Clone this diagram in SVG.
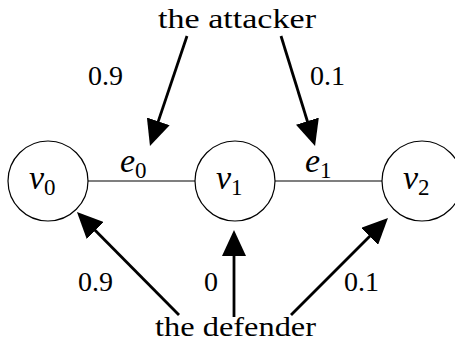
<svg xmlns="http://www.w3.org/2000/svg" width="455" height="350" viewBox="0 0 455 350">
  <style>
    .node circle { fill: #fff; stroke: #000; stroke-width: 1.2; }
    .lbl { font-family: "Liberation Serif", "Times New Roman", serif; font-size: 28px; fill: #000; }
    .math { font-family: "Liberation Serif", "Times New Roman", serif; font-style: italic; font-size: 34px; fill: #000; }
    .sub { font-style: normal; font-size: 23px; }
    .edge { stroke: #000; stroke-width: 1.2; fill: none; }
    .arrow { stroke: #000; stroke-width: 2.8; fill: none; marker-end: url(#tip); }
  </style>
  <defs>
    <marker id="tip" markerUnits="userSpaceOnUse" viewBox="0 0 26 24" refX="14" refY="12" markerWidth="26" markerHeight="24" orient="auto">
      <path d="M0,0 L26,12 L0,24 Z" fill="#000"/>
    </marker>
  </defs>

  <!-- plain edges, weighted arrows and their labels -->
  <g id="connectors">
    <line class="edge" x1="88" y1="181" x2="195" y2="181"/>
    <line class="edge" x1="275" y1="181" x2="382" y2="181"/>
    <line class="arrow" x1="187" y1="36" x2="153.8" y2="134.6"/>
    <line class="arrow" x1="281" y1="36" x2="311.5" y2="134.5"/>
    <line class="arrow" x1="179" y1="315" x2="85.4" y2="220.5"/>
    <line class="arrow" x1="234" y1="317" x2="234" y2="242"/>
    <line class="arrow" x1="291" y1="315" x2="379.5" y2="226.5"/>
    <text class="math" x="120" y="172">e<tspan class="sub" dy="6">0</tspan></text>
    <text class="math" x="305" y="172">e<tspan class="sub" dy="6">1</tspan></text>
    <text class="lbl" x="88" y="85">0.9</text>
    <text class="lbl" x="310" y="85">0.1</text>
    <text class="lbl" x="78" y="291">0.9</text>
    <text class="lbl" x="204" y="291">0</text>
    <text class="lbl" x="344" y="291">0.1</text>
  </g>

  <!-- nodes -->
  <g id="attacker">
    <text class="lbl" x="158" y="28" textLength="158" lengthAdjust="spacingAndGlyphs">the attacker</text>
  </g>
  <g id="v0" class="node">
    <circle cx="48" cy="181" r="40"/>
    <text class="math" x="29" y="189">v<tspan class="sub" dy="6">0</tspan></text>
  </g>
  <g id="v1" class="node">
    <circle cx="235" cy="181" r="40"/>
    <text class="math" x="216" y="189">v<tspan class="sub" dy="6">1</tspan></text>
  </g>
  <g id="v2" class="node">
    <circle cx="422" cy="181" r="40"/>
    <text class="math" x="403" y="189">v<tspan class="sub" dy="6">2</tspan></text>
  </g>
  <g id="defender">
    <text class="lbl" x="155" y="336" textLength="161" lengthAdjust="spacingAndGlyphs">the defender</text>
  </g>
</svg>
